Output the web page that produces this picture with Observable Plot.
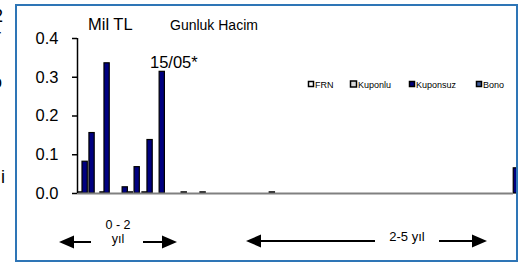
<!DOCTYPE html>
<html>
<head>
<meta charset="utf-8">
<script src="https://cdn.jsdelivr.net/npm/d3@7"></script>
<script src="https://cdn.jsdelivr.net/npm/@observablehq/plot@0.6"></script>
<style>
  html, body { margin: 0; padding: 0; background: #fff; }
  #page { position: relative; width: 525px; height: 264px; overflow: hidden; font-family: "Liberation Sans", Arial, sans-serif; }
  #clip { position: absolute; left: 0; top: 0; width: 516px; height: 264px; overflow: hidden; }
  #clip svg { max-width: none !important; width: 525px; height: 264px; }
  #frame { position: absolute; left: 15px; top: 4px; width: 499px; height: 254px; border: 2px solid #2E75B6; pointer-events: none; }
  #ann { position: absolute; left: 0; top: 0; }
  .frag { position: absolute; font-size: 18px; color: #000; }
</style>
</head>
<body>
<div id="page">
  <span class="frag" style="left:-7px;top:6px">2</span>
  <span class="frag" style="left:-5px;top:26px">r</span>
  <span class="frag" style="left:-8px;top:72px">o</span>
  <span class="frag" style="left:1px;top:167px">i</span>
  <div id="clip"></div>
  <div id="frame"></div>
</div>
<script>
// Series (bond types)
const turler = ["FRN", "Kuponlu", "Kuponsuz", "Bono"];
const renkler = ["#ffffff", "#d9d9d9", "#000080", "#3d5a99"];

// Bars: days to maturity, type, daily volume (Mil TL)
const vadeGun = [4, 21, 50, 96, 113, 189, 210, 239, 272, 293, 344, 436, 515, 805, 1827];
const tur     = ["FRN", "Kuponsuz", "Kuponsuz", "FRN", "Kuponsuz", "Kuponsuz", "FRN", "Kuponsuz", "FRN", "Kuponsuz", "Kuponsuz", "FRN", "FRN", "FRN", "Kuponsuz"];
const hacim   = [0.003, 0.082, 0.156, 0.003, 0.336, 0.016, 0.003, 0.068, 0.003, 0.138, 0.314, 0.003, 0.003, 0.003, 0.065];
const barGenislik = 22; // days

const yTicks = [0, 0.1, 0.2, 0.3, 0.4];

const data = vadeGun.map((g, i) => ({gun: g, tur: tur[i], hacim: hacim[i]}));

const chart = Plot.plot({
  width: 525,
  height: 264,
  marginLeft: 77,
  marginRight: 12,
  marginTop: 38,
  marginBottom: 71,
  style: {fontFamily: "Liberation Sans, Arial, sans-serif", background: "transparent", overflow: "visible", maxWidth: "none"},
  x: {type: "linear", domain: [0, 1826], axis: null},
  y: {type: "linear", domain: [0, 0.4], axis: null, label: null},
  color: {domain: turler, range: renkler},
  marks: [
    Plot.rectY(data, {x1: "gun", x2: d => d.gun + barGenislik, y1: 0, y2: "hacim", fill: "tur", stroke: "black", strokeWidth: 1.2}),
    Plot.ruleY([0], {stroke: "#808080", strokeWidth: 2}),
    Plot.ruleX([0], {y1: 0, y2: 0.4, stroke: "black", strokeWidth: 1.5}),
    Plot.axisY({ticks: yTicks, tickFormat: d3.format(".1f"), tickSize: 5, tickPadding: 14, fontSize: 16.5, label: null, color: "black", stroke: "black", strokeWidth: 1.5})
  ]
});
document.getElementById("clip").appendChild(chart);

// Annotations: titles, legend, arrows
const ann = d3.select("#page").append("svg").attr("id", "ann").attr("width", 525).attr("height", 264)
  .style("font-family", "Liberation Sans, Arial, sans-serif");

ann.append("text").attr("x", 88).attr("y", 30).attr("font-size", 16.5).text("Mil TL");
ann.append("text").attr("x", 170).attr("y", 30).attr("font-size", 14).text("Gunluk Hacim");
ann.append("text").attr("x", 150).attr("y", 68).attr("font-size", 16.5).text("15/05*");

// legend
const legX = [308, 350, 409, 476];
const legW = [5, 6, 5, 5];
turler.forEach((t, i) => {
  ann.append("rect").attr("x", legX[i] + 0.5).attr("y", 84 - legW[i] / 2).attr("width", legW[i]).attr("height", legW[i])
    .attr("fill", renkler[i]).attr("stroke", "black").attr("stroke-width", 1.5);
  ann.append("text").attr("x", legX[i] + legW[i] + 2).attr("y", 87.5).attr("font-size", 9).text(t);
});

// range labels + arrows
ann.append("text").attr("x", 118).attr("y", 229).attr("font-size", 12.5).attr("text-anchor", "middle").text("0 - 2");
ann.append("text").attr("x", 118).attr("y", 243).attr("font-size", 12.5).attr("text-anchor", "middle").text("yıl");
ann.append("text").attr("x", 407).attr("y", 241).attr("font-size", 13).attr("text-anchor", "middle").text("2-5 yıl");

function arrow(x1, x2, y, dir) {
  const head = 15, hh = 6.5;
  if (dir < 0) {
    ann.append("line").attr("x1", x1 + head).attr("x2", x2).attr("y1", y).attr("y2", y).attr("stroke", "black").attr("stroke-width", 2);
    ann.append("polygon").attr("points", `${x1},${y} ${x1 + head},${y - hh} ${x1 + head},${y + hh}`).attr("fill", "black");
  } else {
    ann.append("line").attr("x1", x1).attr("x2", x2 - head).attr("y1", y).attr("y2", y).attr("stroke", "black").attr("stroke-width", 2);
    ann.append("polygon").attr("points", `${x2},${y} ${x2 - head},${y - hh} ${x2 - head},${y + hh}`).attr("fill", "black");
  }
}
arrow(59, 91, 242, -1);
arrow(143, 177, 242, 1);
arrow(246, 375, 241, -1);
arrow(439, 487, 241, 1);
</script>
</body>
</html>
